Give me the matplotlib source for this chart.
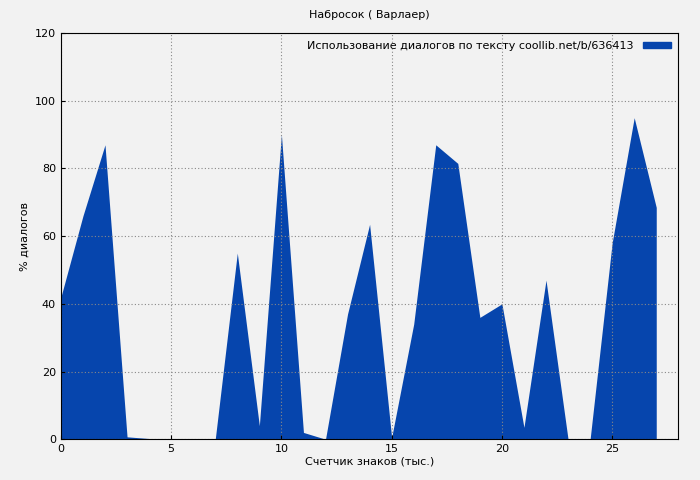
import matplotlib.pyplot as plt
from matplotlib.patches import Patch

# данные
x_vals = list(range(28))
pct = [42, 66, 87, 0.7, 0.2, 0, 0, 0, 55, 4, 90, 2, 0, 37, 63.5, 0.5,
       34, 87, 81.5, 36, 40, 3.5, 47, 0, 0, 58, 95, 68.5]

title = "Набросок ( Варлаер)"
legend_label = "Использование диалогов по тексту coollib.net/b/636413"
color = "#0645ad"

fig = plt.figure(figsize=(7, 4.8), dpi=100, facecolor="#f2f2f2")
ax = fig.add_axes([0.087, 0.085, 0.882, 0.846])
ax.set_facecolor("#f2f2f2")

ax.fill_between(x_vals, pct, 0, color=color, linewidth=0)

ax.set_xlim(0, 28)
ax.set_ylim(0, 120)
ax.set_xticks([0, 5, 10, 15, 20, 25])
ax.set_yticks(range(0, 121, 20))
ax.tick_params(labelsize=8, direction="in", length=3)
ax.grid(True, color="#888888", linestyle=(0, (1, 2)), linewidth=0.8)

ax.set_title(title, fontsize=8, pad=11)
ax.set_xlabel("Счетчик знаков (тыс.)", fontsize=8, labelpad=2)
ax.set_ylabel("% диалогов", fontsize=8)

handle = Patch(facecolor=color, edgecolor=color)
leg = ax.legend([handle], [legend_label], loc="upper right", fontsize=8,
                frameon=False, markerfirst=False, handlelength=2.5,
                handleheight=0.4, borderaxespad=0.3)

plt.savefig("out.png", dpi=100, facecolor=fig.get_facecolor())
